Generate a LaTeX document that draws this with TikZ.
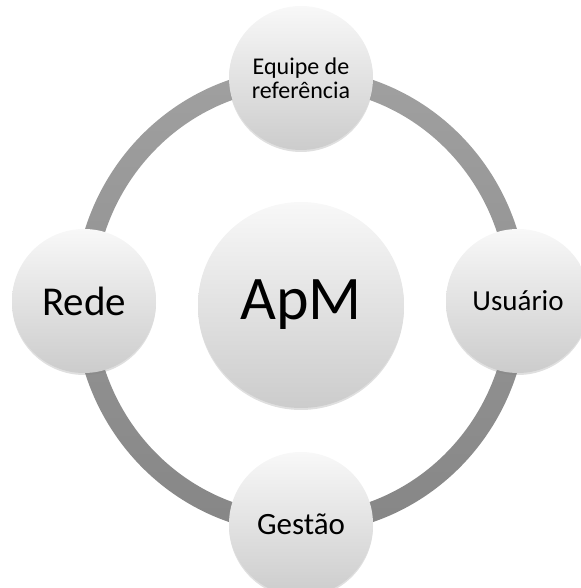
\documentclass[tikz,border=0pt]{standalone}
\usepackage{fontspec}
\setmainfont{Carlito}
\usetikzlibrary{shadows}
\definecolor{kreishell}{RGB}{248,248,248}
\definecolor{kreisdunkel}{RGB}{204,204,204}
\definecolor{ringhell}{RGB}{160,160,160}
\definecolor{ringdunkel}{RGB}{134,134,134}
\tikzset{
  kugel/.style = {
    circle, inner sep=0pt, minimum size=144pt, align=center,
    top color=kreishell, bottom color=kreisdunkel,
    drop shadow={shadow xshift=0pt, shadow yshift=-2pt, opacity=0.25}
  }
}

\begin{document}
\begin{tikzpicture}[x=1pt,y=1pt]
  \pgfmathsetmacro{\breite}{580};
  \pgfmathsetmacro{\hoehe}{588};
  \pgfmathsetmacro{\mx}{301};
  \pgfmathsetmacro{\my}{287};
  \pgfmathsetmacro{\rx}{217};
  \pgfmathsetmacro{\ry}{223};
  \pgfmathsetmacro{\dicke}{10};
  \useasboundingbox (0,0) rectangle (\breite,\hoehe);
  \coordinate (mitte) at (\mx,\my);
  \path[even odd rule, top color=ringhell, bottom color=ringdunkel] (mitte) ellipse [x radius={\rx+\dicke}, y radius={\ry+\dicke}] (mitte) ellipse [x radius={\rx-\dicke}, y radius={\ry-\dicke}];
  \node[kugel, minimum size=206pt, font=\fontsize{62}{62}\selectfont] (apm) at (\mx,{\my-4}) {ApM};
  \node[kugel, font=\fontsize{24}{24}\selectfont] (equipe) at (\mx,{\my+\ry}) {Equipe de\\referência};
  \node[kugel, font=\fontsize{29}{29}\selectfont] (usuario) at ({\mx+\rx},\my) {Usuário};
  \node[kugel, font=\fontsize{31}{31}\selectfont] (gestao) at (\mx,{\my-\ry}) {Gestão};
  \node[kugel, font=\fontsize{41}{41}\selectfont] (rede) at ({\mx-\rx},\my) {Rede};
\end{tikzpicture}
\end{document}
